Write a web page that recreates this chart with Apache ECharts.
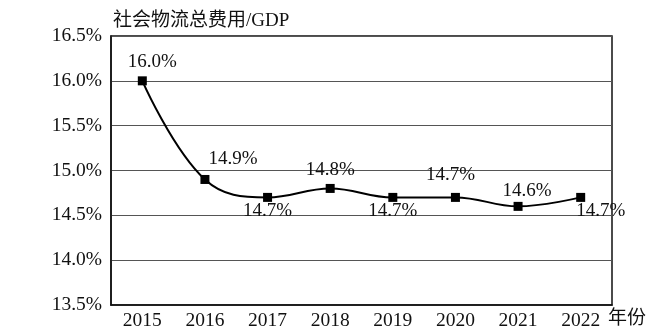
<!DOCTYPE html>
<html>
<head>
<meta charset="utf-8">
<script src="https://cdn.jsdelivr.net/npm/echarts@6/dist/echarts.min.js"></script>
<style>html,body{margin:0;padding:0;background:#fff;}#c{width:669px;height:336px;}</style>
</head>
<body>
<div id="c"></div>
<script>
const years = ['2015','2016','2017','2018','2019','2020','2021','2022'];
const ratio = [16.0, 14.9, 14.7, 14.8, 14.7, 14.7, 14.6, 14.7];
const yTicks = [13.5, 14.0, 14.5, 15.0, 15.5, 16.0, 16.5];
const titleText = '社会物流总费用/GDP';
const xName = '年份';

// label placement (style only)
const labelPlace = [
  {position:'top', offset:[10,1]},
  {position:'top', offset:[28,0]},
  {position:'bottom', offset:[0,-6]},
  {position:'top', offset:[0,2]},
  {position:'bottom', offset:[0,-6]},
  {position:'top', offset:[-5,-2]},
  {position:'top', offset:[9,5]},
  {position:'bottom', offset:[20,-6]}
];

const font = '"Liberation Serif","Noto Sans CJK SC",serif';
const chart = echarts.init(document.getElementById('c'));
chart.setOption({
  backgroundColor:'#fff',
  animation:false,
  title:{text:titleText, left:108, top:7, textStyle:{fontFamily:font, fontSize:19, fontWeight:'normal', color:'#111'}},
  grid:{left:111, right:57, top:36, bottom:31, show:true, borderColor:'#111', borderWidth:1.5, backgroundColor:'transparent'},
  xAxis:{
    type:'category', data:years, boundaryGap:true,
    name:xName, nameLocation:'end', nameGap:-4,
    nameTextStyle:{fontFamily:font, fontSize:19, color:'#111', verticalAlign:'top', padding:[5,0,0,0]},
    axisLine:{lineStyle:{color:'#111', width:1.5}},
    axisTick:{show:false},
    axisLabel:{fontFamily:font, fontSize:19.5, color:'#111', margin:6}
  },
  yAxis:{
    type:'value', min:13.5, max:16.5, interval:0.5,
    axisLine:{show:true, lineStyle:{color:'#111', width:1.5}},
    axisTick:{show:false},
    splitLine:{lineStyle:{color:'#555', width:1}},
    axisLabel:{fontFamily:font, fontSize:19.5, color:'#111', margin:9, formatter:v=>v.toFixed(1)+'%'}
  },
  series:[{
    type:'line', smooth:0.4,
    data: ratio.map((v,i)=>({value:v, label:labelPlace[i]})),
    symbol:'rect', symbolSize:9,
    itemStyle:{color:'#000'},
    lineStyle:{color:'#000', width:2},
    label:{show:true, fontFamily:font, fontSize:19, color:'#111', distance:6, formatter:p=>p.value.toFixed(1)+'%'}
  }]
});
</script>
</body>
</html>
